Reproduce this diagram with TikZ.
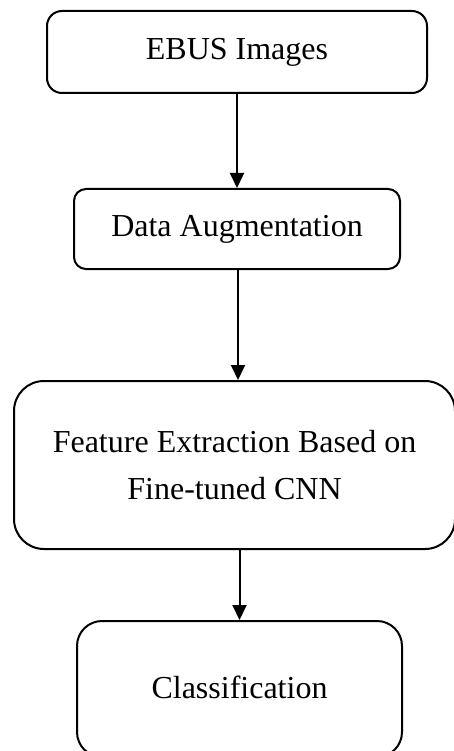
\documentclass[tikz,border=0pt]{standalone}
\usepackage{fontspec}
\setmainfont{Liberation Serif}
\usetikzlibrary{arrows.meta}
\begin{document}
\begin{tikzpicture}[x=1pt,y=-1pt,
  box/.style={draw=black, line width=2pt, inner sep=0pt, align=center,
    font=\fontsize{32}{47}\selectfont},
  conn/.style={line width=2pt, -{Triangle[width=14pt,length=15pt]}}]
\useasboundingbox[fill=white] (0,0) rectangle (453,751);
\node[box, minimum width=380pt, minimum height=82pt, rounded corners=15pt] (b1) at (237,52) {EBUS Images};
\node[box, minimum width=326pt, minimum height=80pt, rounded corners=12pt] (b2) at (237,229) {Data Augmentation};
\node[box, minimum width=441pt, minimum height=168pt, rounded corners=30pt] (b3) at (234.5,465) {Feature Extraction Based on\\Fine-tuned CNN};
\node[box, minimum width=325pt, minimum height=136pt, rounded corners=25pt] (b4) at (239.5,689) {\raisebox{3pt}{Classification}};
\draw[conn] (b1.south) -- (b2.north);
\draw[conn] ([xshift=1pt]b2.south) -- ([xshift=1pt]b2.south |- b3.north);
\draw[conn] (b4.north |- b3.south) -- (b4.north);
\end{tikzpicture}
\end{document}
